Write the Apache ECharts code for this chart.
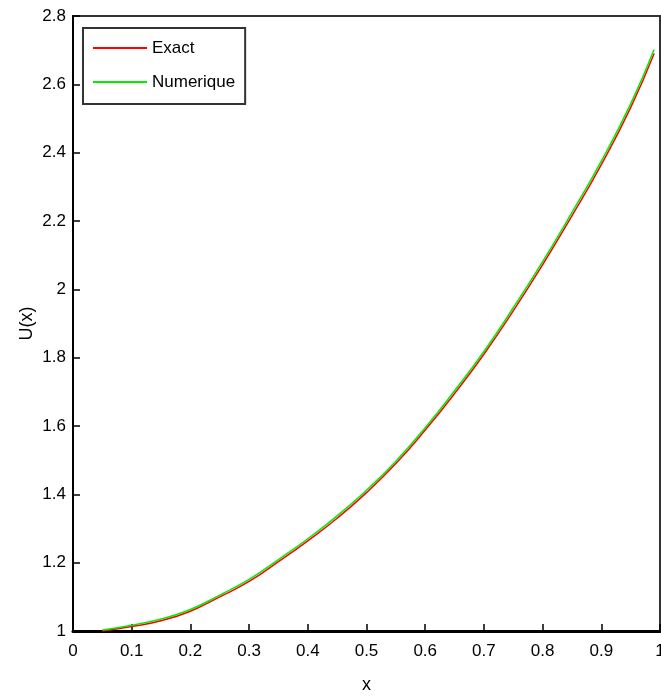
<!DOCTYPE html>
<html>
<head>
    <meta charset="utf-8">
    <title>U(x)</title>
    <script src="https://cdn.jsdelivr.net/npm/echarts@6/dist/echarts.min.js"></script>
    <style>
        html, body { margin: 0; padding: 0; background: #fff; }
        #main { width: 661px; height: 697px; }
    </style>
</head>
<body>
<div id="main"></div>
<script>
    // valeurs
    var xs = [0.05, 0.1, 0.15, 0.2, 0.25, 0.3, 0.35, 0.4, 0.45, 0.5,
              0.55, 0.6, 0.65, 0.7, 0.75, 0.8, 0.85, 0.9, 0.95, 0.99];
    var exact = [1.000, 1.013, 1.030, 1.058, 1.100, 1.145, 1.203, 1.264, 1.330, 1.405,
                 1.490, 1.588, 1.695, 1.810, 1.937, 2.072, 2.215, 2.365, 2.532, 2.690];
    var numerique = [1.003, 1.017, 1.035, 1.063, 1.105, 1.151, 1.209, 1.270, 1.337, 1.412,
                     1.497, 1.595, 1.703, 1.818, 1.946, 2.081, 2.225, 2.375, 2.543, 2.702];
    var names = ['Exact', 'Numerique'];

    var font = "'Liberation Sans', Arial, sans-serif";

    function pairs(a, b) {
        var out = [];
        for (var i = 0; i < a.length; i++) out.push([a[i], b[i]]);
        return out;
    }

    var chart = echarts.init(document.getElementById('main'));
    chart.setOption({
        animation: false,
        backgroundColor: '#fff',
        grid: {
            left: 73, top: 16, right: 1, bottom: 66,
            outerBoundsMode: 'none',
            show: true, borderColor: '#333', borderWidth: 2
        },
        legend: {
            data: names,
            orient: 'vertical',
            left: 83, top: 28,
            icon: 'rect',
            itemWidth: 54, itemHeight: 2,
            itemGap: 14,
            padding: [10, 10, 12, 10],
            borderColor: '#333', borderWidth: 2,
            backgroundColor: '#fff',
            textStyle: { fontFamily: font, fontSize: 17, color: '#000', lineHeight: 20 }
        },
        xAxis: {
            type: 'value', min: 0, max: 1, interval: 0.1,
            name: 'x', nameLocation: 'middle', nameGap: 45, nameMoveOverlap: false,
            nameTextStyle: { fontFamily: font, fontSize: 18, color: '#000' },
            axisLine: { lineStyle: { color: '#000', width: 3 } },
            axisTick: { inside: true, length: 7, lineStyle: { color: '#000', width: 1.5 } },
            axisLabel: { fontFamily: font, fontSize: 17, color: '#000', margin: 12 },
            splitLine: { show: false }
        },
        yAxis: {
            type: 'value', min: 1, max: 2.8, interval: 0.2,
            name: 'U(x)', nameLocation: 'middle', nameGap: 37, nameMoveOverlap: false,
            nameTextStyle: { fontFamily: font, fontSize: 18, color: '#000' },
            axisLine: { lineStyle: { color: '#000', width: 2 } },
            axisTick: { inside: true, length: 7, lineStyle: { color: '#000', width: 1.5 } },
            axisLabel: {
                fontFamily: font, fontSize: 17, color: '#000', margin: 7,
                formatter: function (v) { return String(Math.round(v * 10) / 10); }
            },
            splitLine: { show: false }
        },
        series: [
            {
                name: names[0], type: 'line', data: pairs(xs, exact),
                smooth: true, showSymbol: false,
                itemStyle: { color: '#ff0000' },
                lineStyle: { color: '#ff0000', width: 1.5 }
            },
            {
                name: names[1], type: 'line', data: pairs(xs, numerique),
                smooth: true, showSymbol: false,
                itemStyle: { color: '#00ee00' },
                lineStyle: { color: '#00ee00', width: 1.5 }
            }
        ]
    });
</script>
</body>
</html>
